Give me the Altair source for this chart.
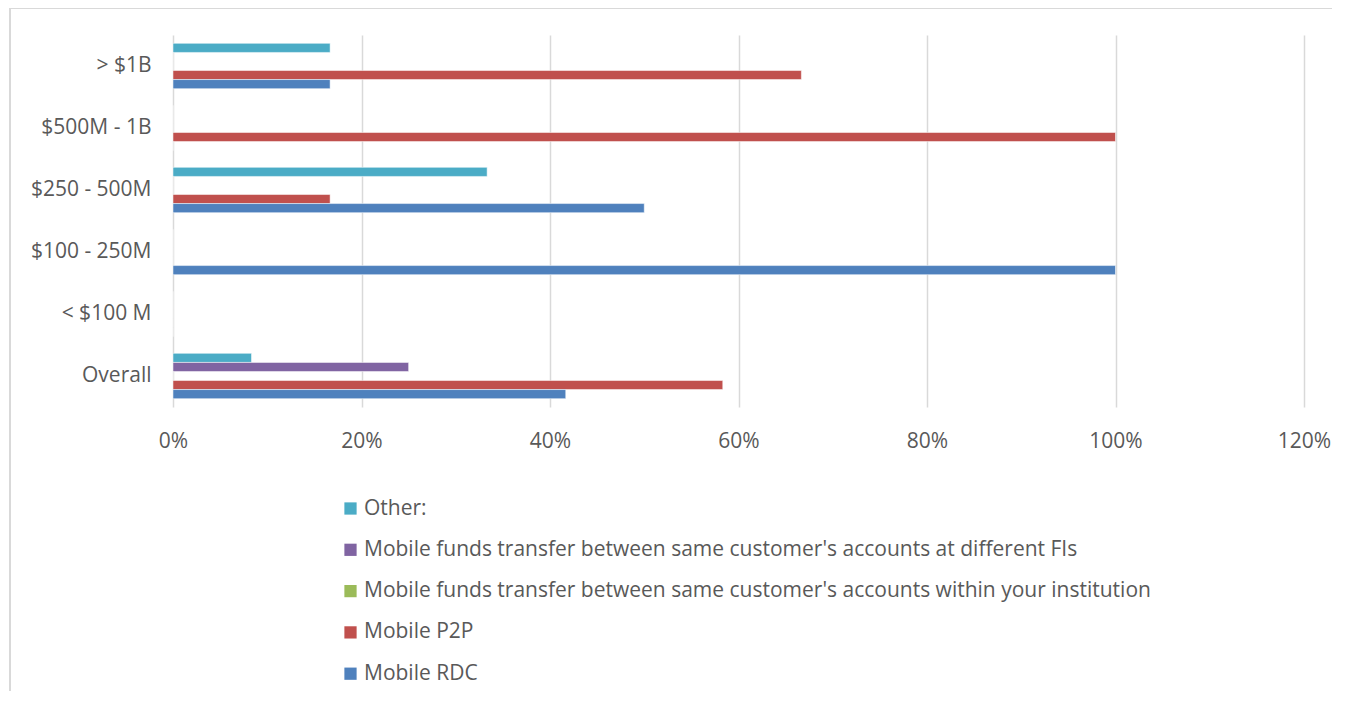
import altair as alt
import pandas as pd

categories = ["> $1B", "$500M - 1B", "$250 - 500M", "$100 - 250M", "< $100 M", "Overall"]
series = [
    "Other:",
    "Mobile funds transfer between same customer's accounts at different FIs",
    "Mobile funds transfer between same customer's accounts within your institution",
    "Mobile P2P",
    "Mobile RDC",
]
colors = ["#4BACC6", "#8064A2", "#9BBB59", "#C0504D", "#4F81BD"]

other_vals = [0.1667, 0.0, 0.3333, 0.0, 0.0, 0.0833]
diff_fi_vals = [0.0, 0.0, 0.0, 0.0, 0.0, 0.25]
within_vals = [0.0, 0.0, 0.0, 0.0, 0.0, 0.0]
p2p_vals = [0.6667, 1.0, 0.1667, 0.0, 0.0, 0.5833]
rdc_vals = [0.1667, 0.0, 0.5, 1.0, 0.0, 0.4167]

rows = []
for s, vals in zip(series, [other_vals, diff_fi_vals, within_vals, p2p_vals, rdc_vals]):
    for c, v in zip(categories, vals):
        rows.append({"category": c, "series": s, "value": v})
df = pd.DataFrame(rows)

FONT = "Open Sans"
TXT = "#595959"
FS = 21

bars = alt.Chart(df).mark_bar(stroke="white", strokeWidth=0.5).encode(
    y=alt.Y("category:N", sort=categories, title=None,
            scale=alt.Scale(paddingInner=0.27, paddingOuter=0.135),
            axis=alt.Axis(domain=False, ticks=False, grid=False, labelPadding=22,
                          labelFontSize=FS, labelColor=TXT, labelFont=FONT)),
    yOffset=alt.YOffset("series:N", sort=series, scale=alt.Scale(paddingInner=0.0)),
    x=alt.X("value:Q", title=None,
            scale=alt.Scale(domain=[0, 1.2], nice=False),
            axis=alt.Axis(format=".0%", values=[0, 0.2, 0.4, 0.6, 0.8, 1.0, 1.2],
                          domain=False, ticks=False, grid=True, gridColor="#D9D9D9",
                          gridWidth=1.5, labelPadding=23, labelFontSize=FS,
                          labelFlush=False, labelColor=TXT, labelFont=FONT)),
    color=alt.Color("series:N", sort=series,
                    scale=alt.Scale(domain=series, range=colors),
                    legend=alt.Legend(title=None, orient="none", legendX=167, legendY=463,
                                      direction="vertical", symbolType="square",
                                      symbolSize=150, symbolStrokeWidth=0,
                                      labelFontSize=FS, labelColor=TXT, labelFont=FONT,
                                      rowPadding=19.3, labelLimit=1200, labelOffset=3)),
)

border = alt.Chart(pd.DataFrame({"a": [0]})).mark_rect(
    fill=None, stroke="#D9D9D9", strokeWidth=2, clip=False
).encode(x=alt.value(-163), x2=alt.value(1190), y=alt.value(-27), y2=alt.value(720))

chart = alt.layer(border, bars).properties(
    width=1131, height=372,
    autosize=alt.AutoSizeParams(type="none"),
    padding={"left": 165, "top": 27, "right": 28, "bottom": 284},
    view=alt.ViewBackground(stroke=None, strokeWidth=0),
).configure_view(strokeWidth=0, stroke=None).configure(font=FONT)

chart.save("out.html", embed_options={"renderer": "svg", "actions": False})
